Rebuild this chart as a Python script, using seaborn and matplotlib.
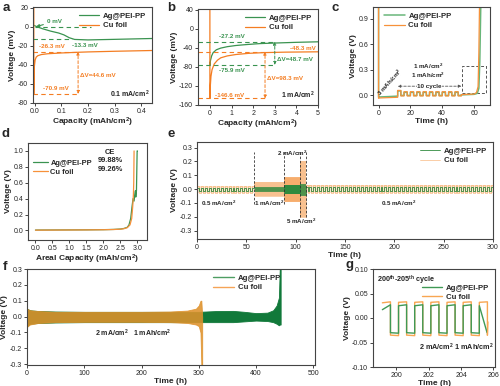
import numpy as np
import matplotlib
matplotlib.use("Agg")
import matplotlib.pyplot as plt
from matplotlib.patches import Rectangle
from matplotlib.ticker import FormatStrFormatter
import seaborn as sns

# ---------------- data ----------------
LBL_AG, LBL_CU = "Ag@PEI-PP", "Cu foil"

# (a) 0.1 mA/cm2
a_ag_cap = [-0.006, 0.01, 0.03, 0.06, 0.09, 0.11, 0.13, 0.15, 0.2, 0.3, 0.44]
a_ag_v = [2.0, 0.0, -2.0, -4.5, -6.5, -8.5, -11.5, -13.3, -13.8, -13.2, -12.3]
a_cu_cap = [-0.003, -0.003, -0.001, 0.002, 0.006, 0.012, 0.025, 0.05, 0.1, 0.15, 0.2, 0.3, 0.44]
a_cu_v = [30.0, -70.9, -42.0, -35.0, -32.0, -30.5, -29.3, -28.4, -27.6, -27.0, -26.5, -25.8, -25.0]

# (b) 1 mA/cm2
b_ag_cap = [0.0, 0.0, 0.03, 0.08, 0.15, 0.3, 0.5, 0.8, 1.2, 1.7, 2.3, 3.0, 4.0, 5.0]
b_ag_v = [-70.0, -75.9, -66.0, -57.0, -50.0, -44.0, -40.5, -37.5, -35.0, -33.0, -31.0, -29.8, -28.3, -27.2]
b_cu_cap = [0.0, 0.0, 0.02, 0.05, 0.1, 0.2, 0.35, 0.5, 0.8, 1.2, 1.8, 2.5, 3.5, 5.0]
b_cu_v = [50.0, -146.6, -120.0, -100.0, -86.0, -74.0, -66.0, -61.0, -57.0, -54.0, -51.5, -50.0, -49.0, -48.3]

# (c) deposition / cycling / stripping
c_dep_t = [0.0, 0.0, 0.5, 6.0, 12.0]
c_ag_dep_v = [1.05, -0.025, -0.022, -0.018, -0.012]
c_cu_dep_v = [1.05, -0.038, -0.034, -0.03, -0.026]
c_cyc_start, c_cyc_end, c_cyc_half = 12.0, 52.0, 2.0
c_ag_hi, c_ag_lo = 0.032, -0.004
c_cu_hi, c_cu_lo = 0.04, -0.01
c_first_peak = 0.055
c_ag_str_t = [52.0, 55.0, 60.0, 62.0, 63.0, 63.6, 64.2]
c_ag_str_v = [0.003, 0.005, 0.009, 0.02, 0.08, 0.4, 1.05]
c_cu_str_t = [52.0, 55.0, 60.0, 61.5, 62.5, 63.0, 63.4]
c_cu_str_v = [0.006, 0.008, 0.012, 0.03, 0.1, 0.5, 1.05]

# (d) CE test
d_ag_cap = [0.0, 0.5, 1.0, 1.5, 2.0, 2.3, 2.5, 2.6, 2.7, 2.75, 2.8, 2.84, 2.87, 2.9, 2.92, 2.94, 2.95, 2.97, 2.99, 3.0]
d_ag_v = [0.005, 0.006, 0.007, 0.008, 0.01, 0.013, 0.018, 0.025, 0.04, 0.07, 0.15, 0.3, 0.4, 0.37, 0.45, 0.5, 0.42, 0.5, 1.0, 1.0]
d_cu_cap = [0.0, 0.5, 1.0, 1.5, 2.0, 2.3, 2.5, 2.6, 2.7, 2.78, 2.83, 2.86, 2.88, 2.89, 2.9]
d_cu_v = [0.004, 0.005, 0.006, 0.007, 0.009, 0.012, 0.016, 0.022, 0.035, 0.07, 0.15, 0.3, 0.45, 0.6, 1.0]

# (e) rate test segments
e_seg_start = [0, 58, 88, 104, 110]
e_seg_end = [58, 88, 104, 110, 300]
e_half_period = [2.0, 1.0, 0.5, 0.2, 2.0]
e_ag_amp = [0.010, 0.012, 0.030, 0.040, 0.012]
e_cu_amp = [0.025, 0.048, 0.088, 0.200, 0.030]
e_dividers = [58, 88, 104, 110]

# (f) long cycling envelopes
f_ag_t = [0, 5, 20, 50, 100, 150, 200, 250, 300, 330, 360, 380, 400, 420, 430, 436, 440, 441.5, 443]
f_ag_hi = [0.05, 0.04, 0.035, 0.032, 0.03, 0.03, 0.03, 0.03, 0.03, 0.035, 0.036, 0.03, 0.022, 0.025, 0.04, 0.07, 0.12, 0.31, 0.31]
f_ag_lo = [-0.06, -0.045, -0.04, -0.037, -0.035, -0.035, -0.035, -0.035, -0.035, -0.035, -0.035, -0.03, -0.025, -0.028, -0.035, -0.045, -0.055, -0.05, -0.05]
f_cu_t = [0, 5, 20, 50, 100, 150, 200, 250, 280, 295, 300, 303, 304.5, 306]
f_cu_hi = [0.05, 0.04, 0.035, 0.03, 0.03, 0.03, 0.03, 0.032, 0.038, 0.05, 0.07, 0.1, 0.1, 0.0]
f_cu_lo = [-0.065, -0.05, -0.04, -0.035, -0.033, -0.033, -0.033, -0.035, -0.04, -0.05, -0.06, -0.1, -0.31, -0.31]

# (g) 200th-205th cycle
g_edges = [199.13, 199.63, 200.13, 200.63, 201.13, 201.63, 202.13, 202.63,
           203.13, 203.63, 204.13, 204.63, 205.13, 205.63]
g_ag_start = [0.017, -0.030, 0.025, -0.030, 0.025, -0.030, 0.025, -0.030, 0.025, -0.030, 0.025, -0.030, 0.025]
g_ag_end = [0.027, -0.031, 0.027, -0.031, 0.027, -0.031, 0.027, -0.031, 0.027, -0.031, 0.027, -0.031, 0.027]
g_cu_start = [0.031, -0.035, 0.032, -0.035, 0.032, -0.035, 0.032, -0.035, 0.032, -0.035, 0.032, -0.035, 0.032]
g_cu_end = [0.033, -0.036, 0.033, -0.036, 0.033, -0.036, 0.033, -0.036, 0.033, -0.036, 0.033, -0.036, 0.033]
g_cu_tail = (205.66, -0.008)

# ---------------- style ----------------
sns.set_theme(style="ticks")
plt.rcParams['font.family'] = ['Liberation Sans', 'DejaVu Sans']
plt.rcParams['axes.unicode_minus'] = False
plt.rcParams['mathtext.fontset'] = 'custom'
plt.rcParams['mathtext.rm'] = 'Liberation Sans'
plt.rcParams['mathtext.bf'] = 'Liberation Sans:bold'
plt.rcParams['mathtext.default'] = 'bf'

GREEN = '#3a9350'
ORANGE = '#f47d22'
TS = 5.0     # tick label size
LS = 6.0     # axis label size
AS = 4.5     # annotation size

W, H = 500, 386
fig = plt.figure(figsize=(W / 100, H / 100), dpi=100)


def add_ax(l, t, r, b):
    return fig.add_axes([l / W, 1 - b / H, (r - l) / W, (b - t) / H])


def style(ax, xlabel, ylabel):
    for s in ax.spines.values():
        s.set_linewidth(0.8)
        s.set_color('#444444')
    ax.tick_params(direction='out', length=2, width=0.6, labelsize=TS, pad=1.5)
    ax.set_xlabel(xlabel, fontsize=LS, weight='bold', labelpad=0.5)
    ax.set_ylabel(ylabel, fontsize=LS, weight='bold', labelpad=1)


def leg(ax, handles=None, labels=None, hl=2.6, htp=0.5, **kw):
    if handles is None:
        handles, labels = ax.get_legend_handles_labels()
    ax.legend(handles, labels, frameon=False, prop={'weight': 'bold', 'size': 5.6},
              handlelength=hl, handletextpad=htp, labelspacing=0.25, borderaxespad=0.3, **kw)


def line(ax, x, y, color, lw=0.9, label=None, alpha=1.0):
    sns.lineplot(x=list(x), y=list(y), ax=ax, color=color, lw=lw, sort=False,
                 estimator=None, label=label, alpha=alpha, legend=False)


def square(t0, t1, half, hi, lo, first=None):
    edges = np.arange(t0, t1 + 1e-9, half)
    ts, vs = [], []
    for i in range(len(edges) - 1):
        v = hi if i % 2 == 0 else lo
        if i == 0 and first is not None:
            v = first
        ts += [edges[i], edges[i + 1]]
        vs += [v, v]
    return ts, vs


def dashed_h(ax, x0, x1, y, c):
    ax.plot([x0, x1], [y, y], ls=(0, (4, 3)), lw=0.8, color=c)


def dbl_arrow(ax, x, y0, y1, c):
    ax.annotate('', xy=(x, y0), xytext=(x, y1),
                arrowprops=dict(arrowstyle='<|-|>', ls=(0, (3, 2)), lw=0.7, color=c,
                                mutation_scale=4, shrinkA=0, shrinkB=0))


def letter(x, y, s):
    fig.text(x / W, 1 - y / H, s, fontsize=9.5, weight='bold', ha='center', va='center')


# ---------------- (a) ----------------
ax = add_ax(33, 7, 152, 103)
line(ax, a_ag_cap, a_ag_v, GREEN, label=LBL_AG)
line(ax, a_cu_cap, a_cu_v, ORANGE, label=LBL_CU)
ax.set_xlim(-0.006, 0.44)
ax.set_ylim(-80.5, 21)
ax.set_xticks([0, 0.1, 0.2, 0.3, 0.4])
ax.set_yticks([-80, -60, -40, -20, 0, 20])
ax.xaxis.set_major_formatter(FormatStrFormatter('%.1f'))
dashed_h(ax, 0.0, 0.21, 0.0, GREEN)
dashed_h(ax, -0.006, 0.14, -13.3, GREEN)
dashed_h(ax, -0.006, 0.165, -26.3, ORANGE)
dashed_h(ax, -0.006, 0.165, -70.9, ORANGE)
dbl_arrow(ax, 0.163, -26.3, -70.9, ORANGE)
ax.annotate('0 mV', xy=(0.006, 0.3), xytext=(0.045, 5.5), fontsize=AS, weight='bold',
            color=GREEN, va='center',
            arrowprops=dict(arrowstyle='-|>', lw=0.8, color=GREEN, mutation_scale=4,
                            shrinkA=0, shrinkB=0))
ax.text(0.19, -20, '-13.3 mV', fontsize=AS, weight='bold', color=GREEN, ha='center', va='center')
ax.text(0.066, -20.5, '-26.3 mV', fontsize=AS, weight='bold', color=ORANGE, ha='center', va='center')
ax.text(0.172, -51, 'ΔV=44.6 mV', fontsize=AS, weight='bold', color=ORANGE, ha='left', va='center')
ax.text(0.08, -65, '-70.9 mV', fontsize=AS, weight='bold', color=ORANGE, ha='center', va='center')
ax.text(0.43, -71, '0.1 mA/cm$^2$', fontsize=5, weight='bold', ha='right', va='center')
style(ax, 'Capacity (mAh/cm$^2$)', 'Voltage (mV)')
leg(ax, loc='upper right')

# ---------------- (b) ----------------
ax = add_ax(198, 9, 318, 105)
line(ax, b_ag_cap, b_ag_v, GREEN, label=LBL_AG)
line(ax, b_cu_cap, b_cu_v, ORANGE, label=LBL_CU)
ax.set_xlim(-0.55, 5.0)
ax.set_ylim(-160.5, 42)
ax.set_xticks([0, 1, 2, 3, 4, 5])
ax.set_yticks([-160, -120, -80, -40, 0, 40])
dashed_h(ax, -0.55, 3.0, -27.2, GREEN)
dashed_h(ax, -0.55, 2.55, -48.3, ORANGE)
dashed_h(ax, -0.55, 3.0, -75.9, GREEN)
dashed_h(ax, -0.55, 2.55, -146.6, ORANGE)
dbl_arrow(ax, 3.0, -27.2, -75.9, GREEN)
dbl_arrow(ax, 2.55, -48.3, -146.6, ORANGE)
ax.text(1.0, -16.5, '-27.2 mV', fontsize=AS, weight='bold', color=GREEN, ha='center', va='center')
ax.text(4.3, -41, '-48.3 mV', fontsize=AS, weight='bold', color=ORANGE, ha='center', va='center')
ax.text(1.0, -88, '-75.9 mV', fontsize=AS, weight='bold', color=GREEN, ha='center', va='center')
ax.text(3.1, -64.5, 'ΔV=48.7 mV', fontsize=AS, weight='bold', color=GREEN, ha='left', va='center')
ax.text(2.62, -105.5, 'ΔV=98.3 mV', fontsize=AS, weight='bold', color=ORANGE, ha='left', va='center')
ax.text(0.92, -141.5, '-146.6 mV', fontsize=AS, weight='bold', color=ORANGE, ha='center', va='center')
ax.text(4.85, -141, '1 mA/cm$^2$', fontsize=5, weight='bold', ha='right', va='center')
style(ax, 'Capacity (mAh/cm$^2$)', 'Voltage (mV)')
leg(ax, loc='upper right')

# ---------------- (c) ----------------
ax = add_ax(373, 7, 490, 105)
C_GREEN, C_ORANGE = '#69b67a', '#f7913a'
tg, vg = square(c_cyc_start, c_cyc_end, c_cyc_half, c_ag_hi, c_ag_lo, first=c_first_peak - 0.006)
tc, vc = square(c_cyc_start, c_cyc_end, c_cyc_half, c_cu_hi, c_cu_lo, first=c_first_peak)
line(ax, c_dep_t + tg + c_ag_str_t, c_ag_dep_v + vg + c_ag_str_v, C_GREEN, lw=1.1, label=LBL_AG)
line(ax, c_dep_t + tc + c_cu_str_t, c_cu_dep_v + vc + c_cu_str_v, C_ORANGE, lw=0.9, label=LBL_CU)
ax.set_xlim(-3.5, 70)
ax.set_ylim(-0.117, 1.04)
ax.set_xticks([0, 20, 40, 60])
ax.set_yticks([0.0, 0.3, 0.6, 0.9])
ax.yaxis.set_major_formatter(FormatStrFormatter('%.1f'))
ax.add_patch(Rectangle((52.7, 0.02), 14.7, 0.32, fill=False, ls=(0, (3, 2)), lw=0.7, ec='#555555'))
ax.annotate('', xy=(12, 0.105), xytext=(52, 0.105),
            arrowprops=dict(arrowstyle='<|-|>', ls=(0, (3, 2)), lw=0.6, color='#555555',
                            mutation_scale=4, shrinkA=0, shrinkB=0))
ax.text(32, 0.105, '10 cycle', fontsize=AS, weight='bold', ha='center', va='center',
        bbox=dict(fc='white', ec='none', pad=0.2))
ax.text(31, 0.335, '1 mA/cm$^2$', fontsize=AS, weight='bold', ha='center', va='center')
ax.text(31, 0.235, '1 mAh/cm$^2$', fontsize=AS, weight='bold', ha='center', va='center')
ax.text(7, 0.15, '3 mAh/cm$^2$', fontsize=AS, weight='bold', ha='center', va='center', rotation=48)
style(ax, 'Time (h)', 'Voltage (V)')
leg(ax, loc='upper left', bbox_to_anchor=(0.05, 1.0))

# ---------------- (d) ----------------
ax = add_ax(28, 143, 147, 240)
D_GREEN, D_ORANGE = '#3a9350', '#f7913a'
line(ax, d_ag_cap, d_ag_v, D_GREEN, lw=0.9, label=LBL_AG)
line(ax, d_cu_cap, d_cu_v, D_ORANGE, lw=0.9, label=LBL_CU)
ax.set_xlim(-0.22, 3.28)
ax.set_ylim(-0.12, 1.1)
ax.set_xticks([0, 0.5, 1.0, 1.5, 2.0, 2.5, 3.0])
ax.set_yticks([0.0, 0.2, 0.4, 0.6, 0.8, 1.0])
ax.xaxis.set_major_formatter(FormatStrFormatter('%.1f'))
ax.yaxis.set_major_formatter(FormatStrFormatter('%.1f'))
for yy, s in zip([0.905, 0.82, 0.73], ['CE', '99.88%', '99.26%']):
    ax.text(0.69, yy, s, transform=ax.transAxes, fontsize=5.4, weight='bold', ha='center', va='center')
style(ax, 'Areal Capacity (mAh/cm$^2$)', 'Voltage (V)')
ax.legend(frameon=False, prop={'weight': 'bold', 'size': 5.4}, handlelength=2.1,
          handletextpad=0.3, labelspacing=0.25, borderaxespad=0.2,
          loc='upper left', bbox_to_anchor=(0.0, 0.875))

# ---------------- (e) ----------------
ax = add_ax(197, 142, 493, 239)
E_GREEN, E_ORANGE = '#2f8a3e', '#f6a45c'
et_cu, ev_cu, et_ag, ev_ag = [], [], [0.0, 0.0], [-0.25, 0.0]
for s0, s1, hp, aa, ca in zip(e_seg_start, e_seg_end, e_half_period, e_ag_amp, e_cu_amp):
    ax.fill_between([s0, s1], [-ca, -ca], [ca, ca], color=E_ORANGE, alpha=0.3, lw=0)
    t, v = square(s0, s1, hp, ca, -ca)
    et_cu += t; ev_cu += v
    t, v = square(s0, s1, hp, aa, -aa)
    et_ag += t; ev_ag += v
line(ax, et_cu, ev_cu, E_ORANGE, lw=0.45, label=LBL_CU, alpha=0.85)
line(ax, et_ag, ev_ag, E_GREEN, lw=0.6, label=LBL_AG)
for xd in e_dividers:
    ax.plot([xd, xd], [-0.2 if xd >= 104 else -0.11, 0.27], ls=(0, (3, 2)), lw=0.6, color='#333333')
ax.text(22, -0.1, '0.5 mA/cm$^2$', fontsize=AS, weight='bold', ha='center', va='center')
ax.text(73, -0.1, '1 mA/cm$^2$', fontsize=AS, weight='bold', ha='center', va='center')
ax.text(96, 0.255, '2 mA/cm$^2$', fontsize=AS, weight='bold', ha='center', va='center')
ax.text(106, -0.235, '5 mA/cm$^2$', fontsize=AS, weight='bold', ha='center', va='center')
ax.text(205, -0.1, '0.5 mA/cm$^2$', fontsize=AS, weight='bold', ha='center', va='center')
ax.set_xlim(0, 300)
ax.set_ylim(-0.36, 0.34)
ax.set_xticks([0, 50, 100, 150, 200, 250, 300])
ax.set_yticks([-0.3, -0.2, -0.1, 0.0, 0.1, 0.2, 0.3])
ax.yaxis.set_major_formatter(FormatStrFormatter('%.1f'))
style(ax, 'Time (h)', 'Voltage (V)')
h, l = ax.get_legend_handles_labels()
leg(ax, h[::-1], l[::-1], loc='upper right')

# ---------------- (f) ----------------
ax = add_ax(27, 269, 315, 365)
F_GREEN, F_ORANGE = '#11793a', '#df922c'
ax.fill_between(f_ag_t, f_ag_lo, f_ag_hi, color=F_GREEN, lw=0.6, ec=F_GREEN)
ax.fill_between(f_cu_t, f_cu_lo, f_cu_hi, color=F_ORANGE, lw=0.6, ec=F_ORANGE, alpha=0.88)
ax.plot([], [], color='#4e9e62', lw=1.0, label=LBL_AG)
ax.plot([], [], color='#f5a457', lw=1.0, label=LBL_CU)
ax.text(185, -0.105, '2 mA/cm$^2$   1 mAh/cm$^2$', fontsize=5, weight='bold', ha='center', va='center')
ax.set_xlim(0, 503)
ax.set_ylim(-0.305, 0.3)
ax.set_xticks([0, 100, 200, 300, 400, 500])
ax.set_yticks([-0.3, -0.2, -0.1, 0.0, 0.1, 0.2, 0.3])
ax.yaxis.set_major_formatter(FormatStrFormatter('%.1f'))
style(ax, 'Time (h)', 'Voltage (V)')
leg(ax, loc='upper right', bbox_to_anchor=(0.9, 1.0))

# ---------------- (g) ----------------
ax = add_ax(373, 269, 495, 367)
G_GREEN, G_ORANGE = '#3f9955', '#f8a652'
gt, ga, gc = [], [], []
for i in range(len(g_edges) - 1):
    gt += [g_edges[i], g_edges[i + 1]]
    ga += [g_ag_start[i], g_ag_end[i]]
    gc += [g_cu_start[i], g_cu_end[i]]
line(ax, gt + [g_edges[-1]], gc + [g_cu_start[1]], G_ORANGE, lw=1.0, label=LBL_CU)
line(ax, gt[:-1] + [g_edges[-1] - 0.02], ga[:-1] + [g_ag_start[1]], G_GREEN, lw=1.0, label=LBL_AG)
line(ax, [g_edges[-1], g_cu_tail[0]], [g_cu_start[1], g_cu_tail[1]], G_ORANGE, lw=1.0)
ax.set_xlim(198.55, 206.1)
ax.set_ylim(-0.1, 0.1)
ax.set_xticks([200, 202, 204, 206])
ax.set_yticks([-0.10, -0.05, 0.0, 0.05, 0.10])
ax.yaxis.set_major_formatter(FormatStrFormatter('%.2f'))
ax.text(0.03, 0.95, '200$^{th}$-205$^{th}$ cycle', transform=ax.transAxes, fontsize=5.2,
        weight='bold', ha='left', va='top')
ax.text(0.985, 0.2, '2 mA/cm$^2$ 1 mAh/cm$^2$', transform=ax.transAxes, fontsize=5.2,
        weight='bold', ha='right', va='center')
style(ax, 'Time (h)', 'Voltage (V)')
h, l = ax.get_legend_handles_labels()
leg(ax, h[::-1], l[::-1], loc='upper right', bbox_to_anchor=(1.0, 0.9))

# ---------------- panel letters ----------------
letter(6, 8, 'a')
letter(171, 8, 'b')
letter(335, 8, 'c')
letter(6, 134, 'd')
letter(171, 134, 'e')
letter(5, 267, 'f')
letter(350, 265, 'g')

fig.savefig('out.png', dpi=100)
